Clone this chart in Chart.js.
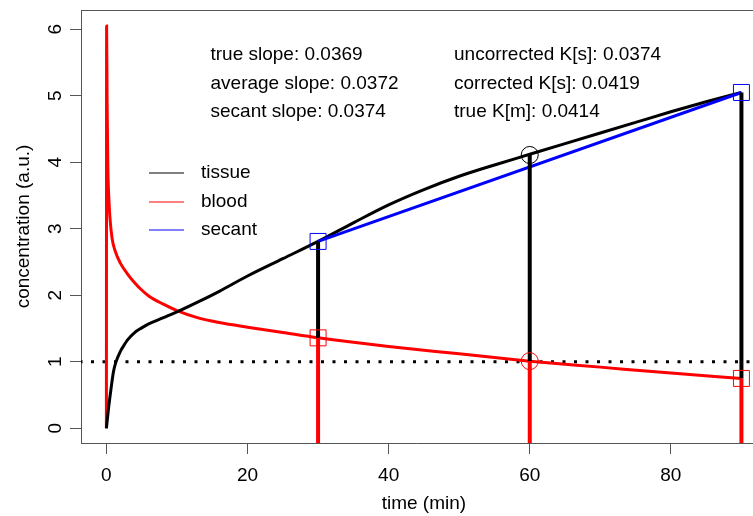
<!DOCTYPE html>
<html>
<head>
<meta charset="utf-8">
<script src="https://cdn.jsdelivr.net/npm/chart.js@4.4.0/dist/chart.umd.min.js"></script>
<style>
  html, body { margin: 0; padding: 0; background: #fff; overflow: hidden; }
  #wrap { width: 753px; height: 516px; position: relative; }
  #kinChart { display: block; }
</style>
</head>
<body>
<div id="wrap"><canvas id="kinChart"></canvas></div>
<script>
// Curves
const tissueTime = [0, 0.3, 0.6, 1, 1.3, 2, 2.5, 3, 4, 5, 6, 8, 10, 13, 16, 20, 25, 30, 35, 40, 45, 50, 55, 60, 65, 70, 75, 80, 85, 90];
const tissueConc = [0, 0.3, 0.55, 0.85, 0.98, 1.16, 1.25, 1.33, 1.44, 1.51, 1.57, 1.66, 1.75, 1.9, 2.06, 2.29, 2.55, 2.81, 3.09, 3.36, 3.59, 3.79, 3.96, 4.12, 4.28, 4.44, 4.6, 4.76, 4.91, 5.05];

const bloodTime = [0, 0.03, 0.1, 0.2, 0.35, 0.5, 0.8, 1.2, 2, 3, 4, 5, 6, 8, 10, 13, 16, 20, 25, 30, 40, 50, 60, 70, 80, 90];
const bloodConc = [0, 6.05, 4.9, 3.95, 3.45, 3.17, 2.86, 2.68, 2.48, 2.32, 2.19, 2.08, 1.99, 1.87, 1.77, 1.66, 1.59, 1.52, 1.44, 1.36, 1.23, 1.12, 1.01, 0.92, 0.83, 0.75];

// sampling times and the values marked there
const sampleTimes = [30, 60, 90];
const tissueAtSample = [2.81, 4.11, 5.05];
const bloodAtSample = [1.36, 1.01, 0.75];

const secantTime = [30, 90];
const secantConc = [2.81, 5.05];

const refLevel = 1;

const xTicks = [0, 20, 40, 60, 80];
const yTicks = [0, 1, 2, 3, 4, 5, 6];

const slopeLabels = ['true slope: 0.0369', 'average slope: 0.0372', 'secant slope: 0.0374'];
const kLabels = ['uncorrected K[s]: 0.0374', 'corrected K[s]: 0.0419', 'true K[m]: 0.0414'];

const legendNames = ['tissue', 'blood', 'secant'];
const legendColors = ['#000000', '#ff0000', '#0000ff'];

// axis limits (R style 4% extension, right side runs past the canvas)
const xMin = -3.6, xMax = 91.64;
const yMin = -0.221, yMax = 6.29;

const FONT = '"Liberation Sans", Arial, Helvetica, sans-serif';

function pairs(xs, ys) {
    return xs.map((x, i) => ({ x: x, y: ys[i] }));
}

const datasets = [];

// markers on top
datasets.push({
    label: 'blood marks',
    data: pairs(sampleTimes, bloodAtSample),
    showLine: false,
    pointStyle: ['rect', 'circle', 'rect'],
    pointRadius: [11.3, 8.5, 11.3],
    pointBorderWidth: 1,
    pointBorderColor: '#ff0000',
    pointBackgroundColor: 'rgba(0,0,0,0)',
    order: 0
});
datasets.push({
    label: 'tissue marks',
    data: pairs(sampleTimes, tissueAtSample),
    showLine: false,
    pointStyle: ['rect', 'circle', 'rect'],
    pointRadius: [11.3, 8.5, 11.3],
    pointBorderWidth: 1,
    pointBorderColor: ['#0000ff', '#000000', '#0000ff'],
    pointBackgroundColor: 'rgba(0,0,0,0)',
    order: 0
});

// vertical drop lines at the sample times
sampleTimes.forEach((t, i) => {
    datasets.push({
        label: 'blood drop ' + t,
        data: [{ x: t, y: yMin }, { x: t, y: bloodAtSample[i] }],
        showLine: true,
        borderColor: '#ff0000',
        borderWidth: 4,
        pointRadius: 0,
        order: 1
    });
    datasets.push({
        label: 'tissue drop ' + t,
        data: [{ x: t, y: bloodAtSample[i] }, { x: t, y: tissueAtSample[i] }],
        showLine: true,
        borderColor: '#000000',
        borderWidth: 4,
        pointRadius: 0,
        order: 1
    });
});

datasets.push({
    label: 'secant',
    data: pairs(secantTime, secantConc),
    showLine: true,
    borderColor: '#0000ff',
    borderWidth: 3,
    pointRadius: 0,
    order: 2
});
datasets.push({
    label: 'tissue',
    data: pairs(tissueTime, tissueConc),
    showLine: true,
    borderColor: '#000000',
    borderWidth: 3,
    pointRadius: 0,
    cubicInterpolationMode: 'monotone',
    order: 3
});
datasets.push({
    label: 'blood',
    data: pairs(bloodTime, bloodConc),
    showLine: true,
    borderColor: '#ff0000',
    borderWidth: 3,
    pointRadius: 0,
    cubicInterpolationMode: 'monotone',
    order: 3
});
datasets.push({
    label: 'reference',
    data: [{ x: xMin, y: refLevel }, { x: xMax, y: refLevel }],
    showLine: true,
    borderColor: '#000000',
    borderWidth: 3,
    borderDash: [3, 8.5],
    borderDashOffset: 1.5,
    pointRadius: 0,
    order: 4
});

// texts, rotated y ticks, legend and the top of the box
const decorations = {
    id: 'decorations',
    afterDraw(chart) {
        const ctx = chart.ctx;
        const area = chart.chartArea;
        const xs = chart.scales.x;
        const ys = chart.scales.y;
        ctx.save();

        // top border
        ctx.strokeStyle = '#555';
        ctx.lineWidth = 1;
        ctx.beginPath();
        ctx.moveTo(area.left, Math.round(area.top) + 0.5);
        ctx.lineTo(area.right, Math.round(area.top) + 0.5);
        ctx.stroke();

        ctx.fillStyle = '#000';
        ctx.font = '19px ' + FONT;

        // y tick labels, rotated like R's default
        yTicks.forEach(v => {
            ctx.save();
            ctx.translate(60.5, ys.getPixelForValue(v));
            ctx.rotate(-Math.PI / 2);
            ctx.textAlign = 'center';
            ctx.textBaseline = 'alphabetic';
            ctx.fillText(String(v), 0, 0);
            ctx.restore();
        });

        // axis titles
        ctx.textAlign = 'center';
        ctx.textBaseline = 'alphabetic';
        ctx.fillText('time (min)', xs.getPixelForValue((xMin + 93.6) / 2), 509);
        ctx.save();
        ctx.translate(29, (area.top + area.bottom) / 2);
        ctx.rotate(-Math.PI / 2);
        ctx.fillText('concentration (a.u.)', 0, 0);
        ctx.restore();

        // statistics text
        ctx.textAlign = 'left';
        const rowBase = [59.7, 88.5, 117];
        slopeLabels.forEach((s, i) => ctx.fillText(s, 210.5, rowBase[i]));
        kLabels.forEach((s, i) => ctx.fillText(s, 454, rowBase[i]));

        // legend
        const legY = [173, 202, 230];
        legendNames.forEach((name, i) => {
            ctx.strokeStyle = legendColors[i];
            ctx.lineWidth = 1;
            ctx.beginPath();
            ctx.moveTo(149, legY[i]);
            ctx.lineTo(184, legY[i]);
            ctx.stroke();
            ctx.textBaseline = 'middle';
            ctx.fillText(name, 201, legY[i]);
        });

        ctx.restore();
    }
};

new Chart(document.getElementById('kinChart'), {
    type: 'scatter',
    data: { datasets: datasets },
    options: {
        responsive: true,
        maintainAspectRatio: false,
        animation: false,
        events: [],
        layout: {
            autoPadding: false,
            padding: { top: 10, left: 0, right: 0, bottom: 0 }
        },
        plugins: {
            legend: { display: false },
            tooltip: { enabled: false }
        },
        scales: {
            x: {
                type: 'linear',
                min: xMin,
                max: xMax,
                afterBuildTicks: s => { s.ticks = xTicks.map(v => ({ value: v })); },
                afterFit: s => {
                    s.height = 73;
                    s.paddingLeft = 0;
                    s.paddingRight = 0;
                },
                ticks: {
                    color: '#000',
                    padding: 10,
                    maxRotation: 0,
                    font: { family: FONT, size: 19 }
                },
                grid: {
                    drawOnChartArea: false,
                    drawTicks: true,
                    tickLength: 11,
                    color: '#555'
                },
                border: { display: true, color: '#555', width: 1 }
            },
            y: {
                type: 'linear',
                min: yMin,
                max: yMax,
                afterBuildTicks: s => { s.ticks = yTicks.map(v => ({ value: v })); },
                afterFit: s => {
                    s.width = 81;
                    s.paddingTop = 0;
                    s.paddingBottom = 0;
                },
                ticks: { display: false },
                grid: {
                    drawOnChartArea: false,
                    drawTicks: true,
                    tickLength: 11,
                    color: '#555'
                },
                border: { display: true, color: '#555', width: 1 }
            }
        }
    },
    plugins: [decorations]
});
</script>
</body>
</html>
